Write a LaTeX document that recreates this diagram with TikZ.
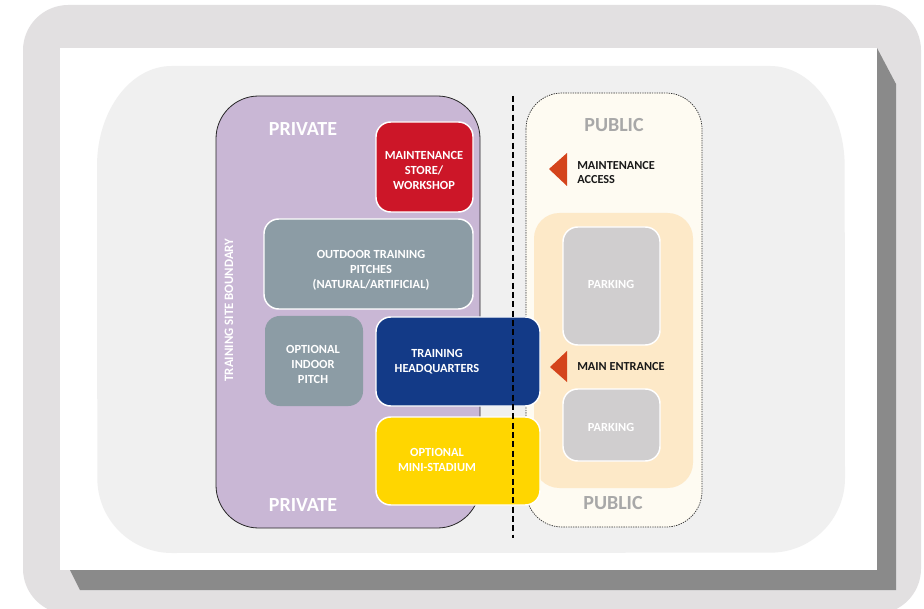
\documentclass[tikz,border=0pt]{standalone}
\usepackage{fontspec}
\setmainfont{Carlito}
\definecolor{frame}{HTML}{E2E0E1}
\definecolor{shadowc}{HTML}{8A8A8A}
\definecolor{innerc}{HTML}{F0F0F0}
\definecolor{purplec}{HTML}{C9B7D5}
\definecolor{creamc}{HTML}{FEFBF2}
\definecolor{orangec}{HTML}{FDE9C8}
\definecolor{parkc}{HTML}{D0CECF}
\definecolor{redc}{HTML}{CC1628}
\definecolor{slatec}{HTML}{8C9CA5}
\definecolor{navyc}{HTML}{133A87}
\definecolor{yellowc}{HTML}{FFD600}
\definecolor{arrowc}{HTML}{D4441C}
\definecolor{pubtext}{HTML}{A8A8A8}
\begin{document}
\begin{tikzpicture}[x=0.75pt,y=-0.75pt,
  zone/.style={draw=white,line width=1.1pt,rounded corners=11pt},
  lbl/.style={text=white,align=center,font=\bfseries\fontsize{9.3}{11.25}\selectfont,inner sep=0pt},
  blk/.style={text=black!90,align=left,anchor=west,font=\bfseries\fontsize{9.2}{10.5}\selectfont,inner sep=0pt},
  big/.style={font=\bfseries\fontsize{15}{17}\selectfont,inner sep=0pt},
  tri/.style={fill=arrowc,draw=none}]
\useasboundingbox (0,0) rectangle (924,609);
\fill[white] (0,0) rectangle (924,609);
% outer frame
\fill[frame,rounded corners=34pt] (23,5) rectangle (921,614);
% shadow
\fill[shadowc] (877,48) -- (896,84) -- (896,590) -- (80,590) -- (70,570) -- cycle;
% white sheet
\fill[white] (60,48) rectangle (877,570);
% inner light gray area with elliptical corners
\fill[innerc] (172,66) -- (770,66) arc[start angle=90,end angle=0,x radius=56pt,y radius=75pt]
  -- (845,478) arc[start angle=0,end angle=-90,x radius=56pt,y radius=56pt]
  -- (172,553) arc[start angle=-90,end angle=-180,x radius=56pt,y radius=56pt]
  -- (97,166) arc[start angle=180,end angle=90,x radius=56pt,y radius=75pt] -- cycle;
% private area
\draw[fill=purplec,draw=black!85,line width=0.6pt,rounded corners=32pt] (216,96) rectangle (480,528);
% public area
\draw[fill=creamc,draw=black!80,line width=0.55pt,dash pattern=on 1pt off 0.8pt,rounded corners=27pt] (526,93) rectangle (702,527);
\fill[orangec,rounded corners=19pt] (534,213) rectangle (693,488);
% parking
\path[zone,fill=parkc] (563,227) rectangle (660,345);
\path[zone,fill=parkc] (563,389) rectangle (660,461);
\node[lbl] (park1) at (611,284) {PARKING};
\node[lbl] (park2) at (611,427) {PARKING};
% blocks
\path[zone,fill=redc] (376,122) rectangle (473,212);
\node[lbl] (maint) at (424,170) {MAINTENANCE\\STORE/\\WORKSHOP};
\path[zone,fill=slatec] (264,219) rectangle (473,309);
\node[lbl] (outdoor) at (371,270) {OUTDOOR TRAINING\\PITCHES\\(NATURAL/ARTIFICIAL)};
\path[fill=slatec,rounded corners=11pt] (265,316) rectangle (363,406);
\node[lbl] (indoor) at (313,364) {OPTIONAL\\INDOOR\\PITCH};
\path[zone,fill=navyc] (376,317) rectangle (540,406);
\node[lbl] (hq) at (437,361.5) {TRAINING\\HEADQUARTERS};
\path[zone,fill=yellowc] (376,417) rectangle (540,505);
\node[lbl] (stadium) at (437,459.5) {OPTIONAL\\MINI-STADIUM};
% boundary dashed line
\coordinate (ltop) at (513,96);
\coordinate (lbot) at (513,538);
\draw[black,line width=1.1pt,dash pattern=on 4.5pt off 2.5pt] (ltop) -- (lbot);
% labels
\node[big,text=white] (priv1) at (303,129) {PRIVATE};
\node[big,text=white] (priv2) at (303,505) {PRIVATE};
\node[big,text=pubtext] (pub1) at (614,125) {PUBLIC};
\node[big,text=pubtext] (pub2) at (613,503) {PUBLIC};
\node[text=white,rotate=90,font=\bfseries\fontsize{9.6}{11}\selectfont,inner sep=0pt] (tsb) at (229,310) {TRAINING SITE BOUNDARY};
% access arrows
\fill[tri] (549,169) -- (567,153) -- (567,186) -- cycle;
\node[blk] (macc) at (577,173) {MAINTENANCE\\ACCESS};
\fill[tri] (550,367) -- (567,351) -- (567,382) -- cycle;
\node[blk] (mainent) at (577,367) {MAIN ENTRANCE};
\end{tikzpicture}
\end{document}
